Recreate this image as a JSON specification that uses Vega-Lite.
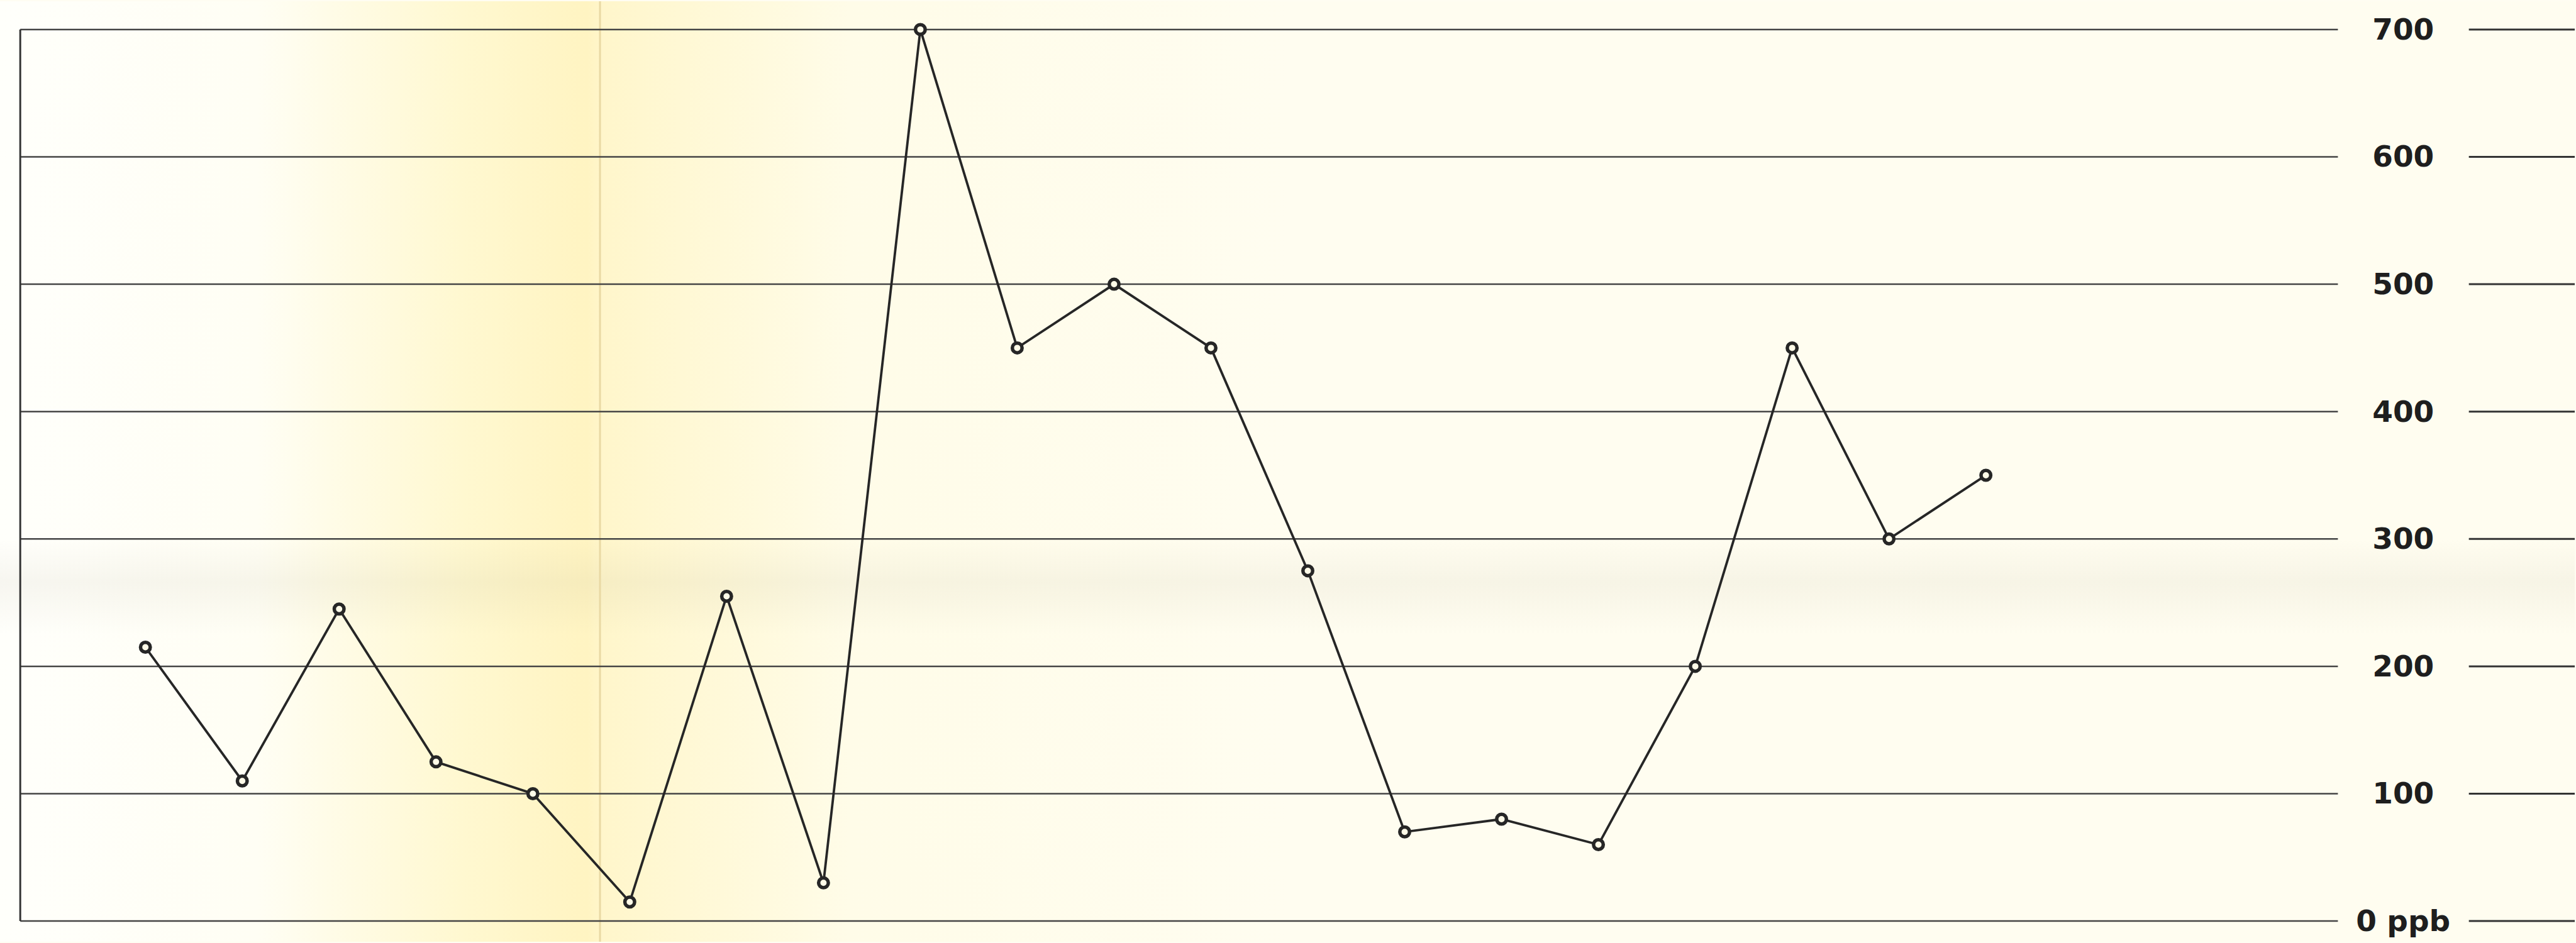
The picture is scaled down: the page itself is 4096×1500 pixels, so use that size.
{
  "$schema": "https://vega.github.io/schema/vega-lite/v6.json",
  "width": 4096,
  "height": 1500,
  "autosize": {"type": "fit", "contains": "padding"},
  "padding": 0,
  "background": "#fffdf2",
  "config": {
    "view": {
      "stroke": null,
      "fill": {
        "gradient": "linear", "x1": 0, "y1": 0, "x2": 1, "y2": 0,
        "stops": [
          {"offset": 0, "color": "#fffffb"},
          {"offset": 0.1, "color": "#fffef4"},
          {"offset": 0.14, "color": "#fffbe2"},
          {"offset": 0.18, "color": "#fff8d0"},
          {"offset": 0.228, "color": "#fff4c2"},
          {"offset": 0.234, "color": "#fff6cb"},
          {"offset": 0.28, "color": "#fff9d9"},
          {"offset": 0.33, "color": "#fffce8"},
          {"offset": 0.5, "color": "#fffdf0"},
          {"offset": 1, "color": "#fffdf0"}
        ]
      }
    }
  },
  "datasets": {
    "series": [
      {"n": 1, "ppb": 215},
      {"n": 2, "ppb": 110},
      {"n": 3, "ppb": 245},
      {"n": 4, "ppb": 125},
      {"n": 5, "ppb": 100},
      {"n": 6, "ppb": 15},
      {"n": 7, "ppb": 255},
      {"n": 8, "ppb": 30},
      {"n": 9, "ppb": 700},
      {"n": 10, "ppb": 450},
      {"n": 11, "ppb": 500},
      {"n": 12, "ppb": 450},
      {"n": 13, "ppb": 275},
      {"n": 14, "ppb": 70},
      {"n": 15, "ppb": 80},
      {"n": 16, "ppb": 60},
      {"n": 17, "ppb": 200},
      {"n": 18, "ppb": 450},
      {"n": 19, "ppb": 300},
      {"n": 20, "ppb": 350}
    ],
    "grid": [
      {"ppb": 0, "label": "0 ppb"},
      {"ppb": 100, "label": "100"},
      {"ppb": 200, "label": "200"},
      {"ppb": 300, "label": "300"},
      {"ppb": 400, "label": "400"},
      {"ppb": 500, "label": "500"},
      {"ppb": 600, "label": "600"},
      {"ppb": 700, "label": "700"}
    ]
  },
  "layer": [
    {
      "data": {"values": [{}]},
      "mark": {
        "type": "rect",
        "color": {
          "gradient": "linear", "x1": 0, "y1": 0, "x2": 0, "y2": 1,
          "stops": [
            {"offset": 0, "color": "rgba(150,140,110,0)"},
            {"offset": 0.45, "color": "rgba(150,140,110,0.08)"},
            {"offset": 0.6, "color": "rgba(150,140,110,0.06)"},
            {"offset": 1, "color": "rgba(150,140,110,0)"}
          ]
        }
      },
      "encoding": {
        "x": {"datum": -0.501, "type": "quantitative", "scale": {"domain": [-0.501, 26.079], "nice": false, "zero": false}, "axis": null},
        "x2": {"datum": 26.079},
        "y": {"datum": 300, "type": "quantitative", "scale": {"domain": [-16.24, 722.15], "nice": false, "zero": false}, "axis": null},
        "y2": {"datum": 225}
      }
    },
    {
      "data": {"values": [{}]},
      "mark": {"type": "rule", "color": "#e9d9a4", "strokeWidth": 3},
      "encoding": {
        "x": {"datum": 5.693, "type": "quantitative", "scale": {"domain": [-0.501, 26.079], "nice": false, "zero": false}, "axis": null},
        "y": {"datum": -16.24, "type": "quantitative", "scale": {"domain": [-16.24, 722.15], "nice": false, "zero": false}, "axis": null},
        "y2": {"datum": 722.15}
      }
    },
    {
      "data": {"name": "grid"},
      "mark": {"type": "rule", "color": "#444444", "strokeWidth": 2.5},
      "encoding": {
        "x": {"datum": -0.292, "type": "quantitative", "scale": {"domain": [-0.501, 26.079], "nice": false, "zero": false}, "axis": null},
        "x2": {"datum": 23.634},
        "y": {"field": "ppb", "type": "quantitative", "scale": {"domain": [-16.24, 722.15], "nice": false, "zero": false}, "axis": null}
      }
    },
    {
      "data": {"name": "grid"},
      "mark": {"type": "rule", "color": "#333333", "strokeWidth": 3},
      "encoding": {
        "x": {"datum": 24.986, "type": "quantitative", "scale": {"domain": [-0.501, 26.079], "nice": false, "zero": false}, "axis": null},
        "x2": {"datum": 26.079},
        "y": {"field": "ppb", "type": "quantitative", "scale": {"domain": [-16.24, 722.15], "nice": false, "zero": false}, "axis": null}
      }
    },
    {
      "data": {"values": [{}]},
      "mark": {"type": "rule", "color": "#333333", "strokeWidth": 3},
      "encoding": {
        "x": {"datum": -0.292, "type": "quantitative", "scale": {"domain": [-0.501, 26.079], "nice": false, "zero": false}, "axis": null},
        "y": {"datum": 0, "type": "quantitative", "scale": {"domain": [-16.24, 722.15], "nice": false, "zero": false}, "axis": null},
        "y2": {"datum": 700}
      }
    },
    {
      "data": {"name": "grid"},
      "mark": {"type": "text", "font": "DejaVu Sans", "fontSize": 47, "fontWeight": "bold", "color": "#1e1e1e", "align": "center", "baseline": "middle", "dy": 2},
      "encoding": {
        "x": {"datum": 24.308, "type": "quantitative", "scale": {"domain": [-0.501, 26.079], "nice": false, "zero": false}, "axis": null},
        "y": {"field": "ppb", "type": "quantitative", "scale": {"domain": [-16.24, 722.15], "nice": false, "zero": false}, "axis": null},
        "text": {"field": "label"}
      }
    },
    {
      "data": {"name": "series"},
      "mark": {"type": "line", "color": "#262626", "strokeWidth": 3.8},
      "encoding": {
        "x": {"field": "n", "type": "quantitative", "scale": {"domain": [-0.501, 26.079], "nice": false, "zero": false}, "axis": null},
        "y": {"field": "ppb", "type": "quantitative", "scale": {"domain": [-16.24, 722.15], "nice": false, "zero": false}, "axis": null}
      }
    },
    {
      "data": {"name": "series"},
      "mark": {"type": "point", "shape": "circle", "filled": false, "fill": "#fffbe8", "fillOpacity": 1, "stroke": "#262626", "strokeWidth": 5.5, "size": 240, "opacity": 1},
      "encoding": {
        "x": {"field": "n", "type": "quantitative", "scale": {"domain": [-0.501, 26.079], "nice": false, "zero": false}, "axis": null},
        "y": {"field": "ppb", "type": "quantitative", "scale": {"domain": [-16.24, 722.15], "nice": false, "zero": false}, "axis": null}
      }
    }
  ]
}
